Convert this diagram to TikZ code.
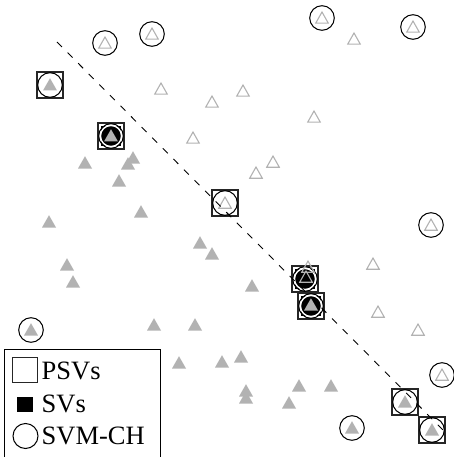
\documentclass[tikz,border=0pt]{standalone}
\usepackage{fontspec}
\setmainfont{Liberation Serif}
\definecolor{tgray}{RGB}{178,178,178}
\begin{document}
\begin{tikzpicture}[x=1pt,y=-1pt,
  opentri/.style={draw=tgray, line width=1.1pt, line join=miter},
  filltri/.style={fill=tgray},
  psvbox/.style={draw=black!85, line width=1.1pt},
  svbox/.style={fill=black},
  chring/.style={draw=black, line width=1pt},
  chhalo/.style={draw=white, line width=1.5pt},
  hyper/.style={draw=black, line width=0.9pt, dash pattern=on 7pt off 8pt},
  legtext/.style={anchor=base west, inner sep=0pt, font=\fontsize{26.5}{30}\selectfont},
  legframe/.style={draw=black, line width=1pt},
]
\useasboundingbox (0,0) rectangle (453,457);
% PSV squares
\foreach \x/\y in {50/85,111/136,225/203,305/279,311/306,405/402,432/430}
  \draw[psvbox] (\x-13,\y-13) rectangle (\x+13,\y+13);
% SV filled squares
\foreach \x/\y in {111/136,305/279,311/306}
  \fill[svbox] (\x-10,\y-10) rectangle (\x+10,\y+10);
% SVM-CH circles
\foreach \x/\y in {105/43,152/34,322/18,413/27,50/85,111/136,225/203,431/225,305/279,311/306,31/330,442/375,405/402,352/428,432/430}{
  \draw[chhalo] (\x,\y) circle (10.6);
  \draw[chring] (\x,\y) circle (12.3);
}
% open triangles (class 1)
\foreach \x/\y in {105/43,152/34,322/18,413/27,354/39,161/89,212/102,243/91,314/117,193/138,273/162,256/173,225/203,431/225,373/264,308/267,306/277,378/312,418/330,442/375}
  \draw[opentri] (\x,\y-6) -- (\x+6.3,\y+5.2) -- (\x-6.3,\y+5.2) -- cycle;
% filled triangles (class 2)
\foreach \x/\y in {50/85,111/136,133/158,128/164,85/163,119/181,141/212,49/222,200/243,212/254,67/265,73/282,252/286,311/305,31/330,154/325,195/325,179/363,222/362,241/357,299/386,331/386,246/391,246/398,289/403,405/402,352/428,432/430}
  \fill[filltri] (\x,\y-6.8) -- (\x+7,\y+5.5) -- (\x-7,\y+5.5) -- cycle;
% separating line
\coordinate (hstart) at (57,42);
\coordinate (hend) at (445,432);
\draw[hyper] (hstart) -- (hend);
% legend
\fill[white] (4.7,349) rectangle (160.5,457);
\draw[legframe] (4.7,458) |- (160.5,349) -- (160.5,458);
\draw[psvbox] (12.5,357.5) rectangle (37.5,382.5);
\fill[svbox] (17,397) rectangle (33,412);
\draw[chring] (25.5,436) circle (12.5);
\node[legtext] (lpsv) at (41.5,379) {PSVs};
\node[legtext] (lsv) at (41.5,412) {SVs};
\node[legtext] (lch) at (41.5,444.5) {SVM-CH};
\end{tikzpicture}
\end{document}
